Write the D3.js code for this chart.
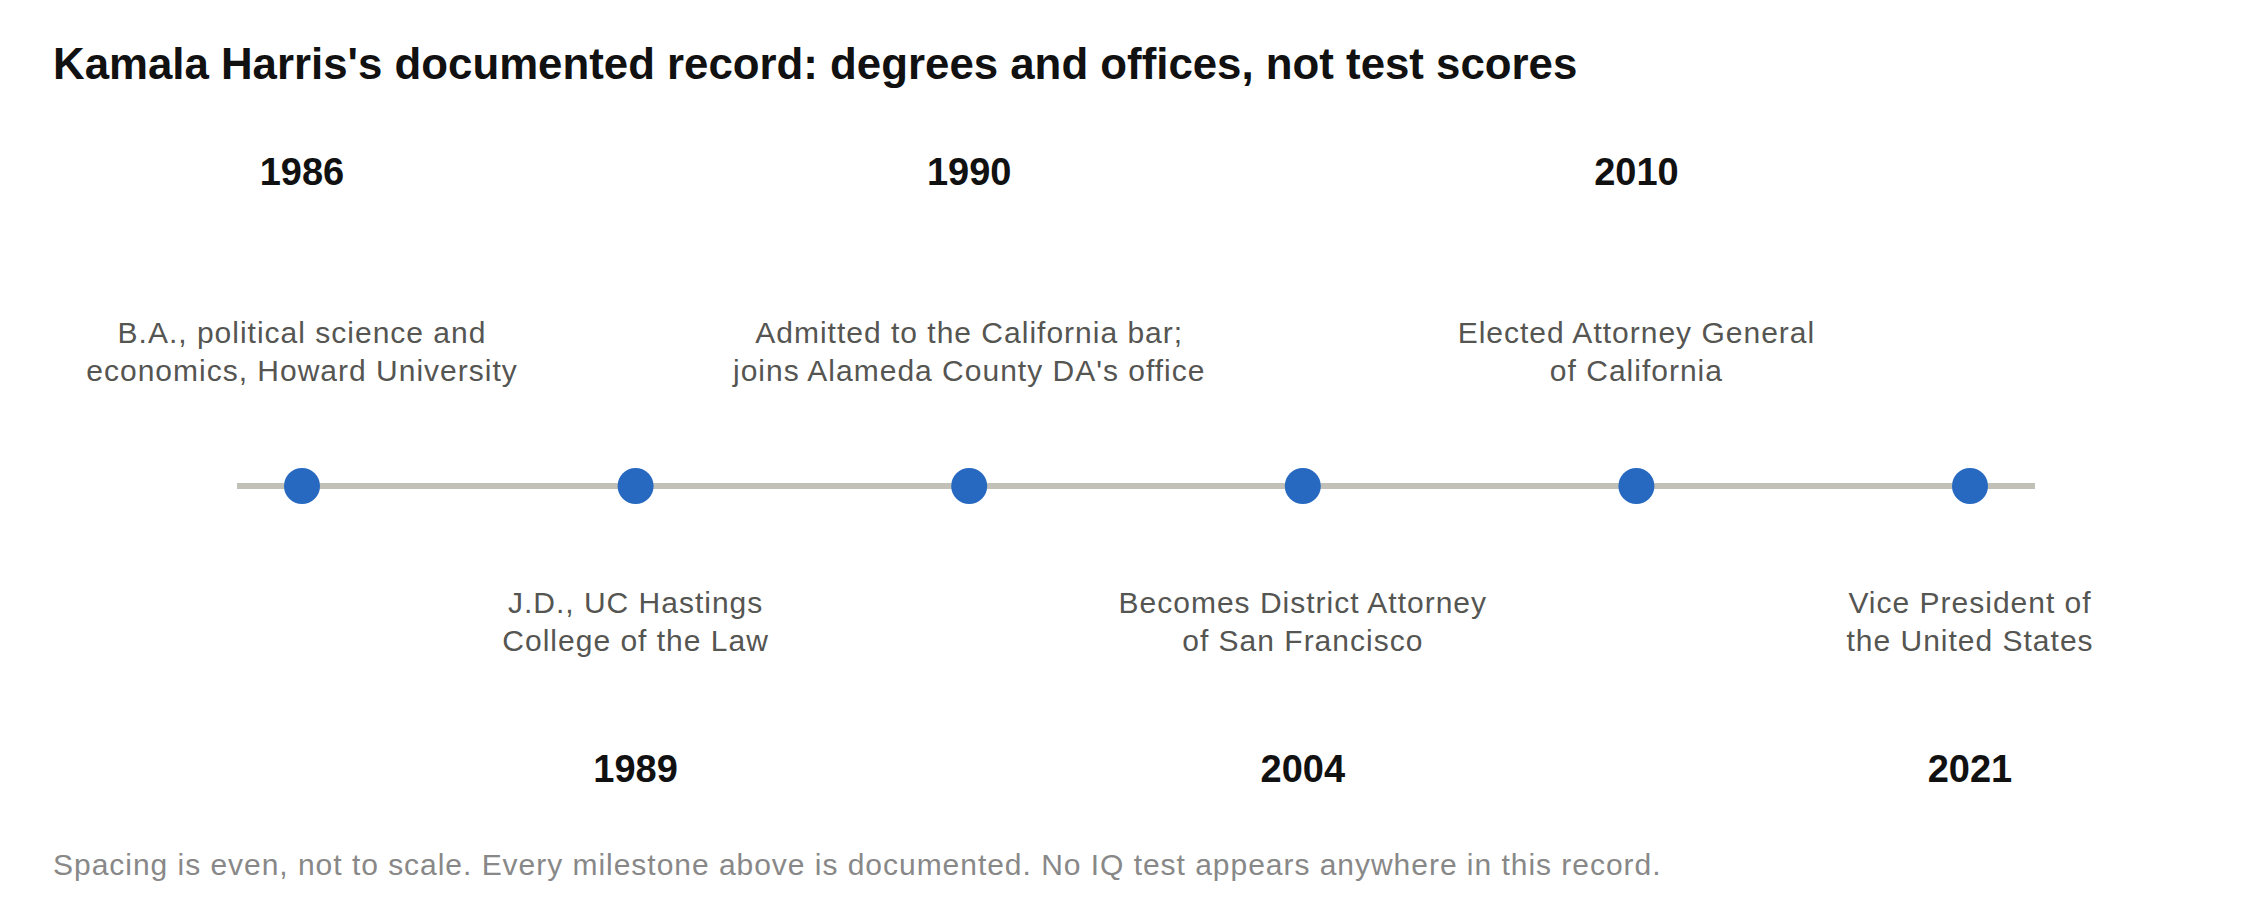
<!DOCTYPE html>
<html>
<head>
<meta charset="utf-8">
<script src="https://cdn.jsdelivr.net/npm/d3@7"></script>
<style>
  html, body { margin: 0; padding: 0; background: #ffffff; }
  svg { display: block; font-family: "Liberation Sans", Arial, Helvetica, sans-serif; }
</style>
</head>
<body>
<svg id="chart" width="2256" height="920"></svg>
<script>
const years = ["1986", "1989", "1990", "2004", "2010", "2021"];
const descriptions = [
  ["B.A., political science and", "economics, Howard University"],
  ["J.D., UC Hastings", "College of the Law"],
  ["Admitted to the California bar;", "joins Alameda County DA's office"],
  ["Becomes District Attorney", "of San Francisco"],
  ["Elected Attorney General", "of California"],
  ["Vice President of", "the United States"]
];
const sides = ["above", "below", "above", "below", "above", "below"];
const titleText = "Kamala Harris's documented record: degrees and offices, not test scores";
const footnoteText = "Spacing is even, not to scale. Every milestone above is documented. No IQ test appears anywhere in this record.";

const svg = d3.select("#chart");

const x = d3.scalePoint().domain(years).range([302, 1970]);
const lineY = 486;

// title
svg.append("text")
  .attr("x", 53).attr("y", 79)
  .attr("font-size", 43.8).attr("font-weight", "bold")
  .attr("fill", "#111111")
  .text(titleText);

// axis line
svg.append("line")
  .attr("x1", x(years[0]) - 65).attr("x2", x(years[years.length - 1]) + 65)
  .attr("y1", lineY).attr("y2", lineY)
  .attr("stroke", "#c2c1b7").attr("stroke-width", 6);

const g = svg.append("g").selectAll("g.m")
  .data(years.map((y, i) => ({ year: y, desc: descriptions[i], side: sides[i] })))
  .join("g").attr("class", "m");

g.append("circle")
  .attr("cx", d => x(d.year)).attr("cy", lineY).attr("r", 18)
  .attr("fill", "#2769c0");

g.append("text")
  .attr("x", d => x(d.year))
  .attr("y", d => d.side === "above" ? 185 : 782)
  .attr("text-anchor", "middle")
  .attr("font-size", 38).attr("font-weight", "bold")
  .attr("fill", "#111111")
  .text(d => d.year);

g.each(function(d) {
  const t = d3.select(this).append("text")
    .attr("text-anchor", "middle")
    .attr("font-size", 30)
    .attr("letter-spacing", 1)
    .attr("fill", "#555552");
  const base = d.side === "above" ? 343 : 613;
  d.desc.forEach((line, k) => {
    t.append("tspan").attr("x", x(d.year)).attr("y", base + k * 38).text(line);
  });
});

svg.append("text")
  .attr("x", 53).attr("y", 875)
  .attr("font-size", 30)
  .attr("letter-spacing", 0.97)
  .attr("fill", "#888888")
  .text(footnoteText);
</script>
</body>
</html>
